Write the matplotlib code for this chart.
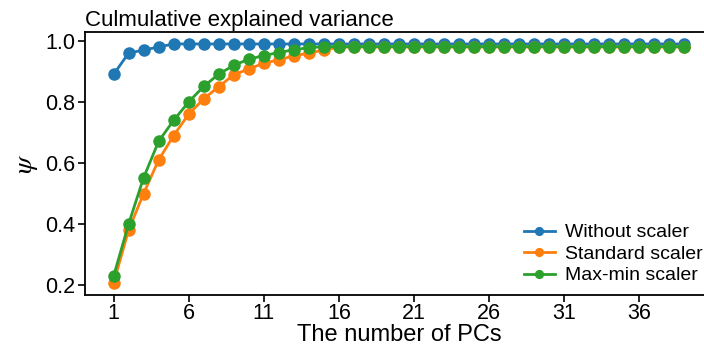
import numpy as np
import matplotlib
matplotlib.use("Agg")
import matplotlib.pyplot as plt

plt.rcParams['font.family'] = ['Liberation Sans', 'DejaVu Sans']
plt.rcParams['mathtext.fontset'] = 'stix'

# number of principal components
n_pcs = np.arange(1, 40)

# cumulative explained variance
without_scaler = [0.89, 0.96, 0.97, 0.98] + [0.99] * 35
standard_scaler = [0.207, 0.38, 0.50, 0.61, 0.69, 0.76, 0.81, 0.85, 0.889, 0.908,
                   0.927, 0.938, 0.951, 0.96, 0.97] + [0.98] * 24
maxmin_scaler = [0.229, 0.40, 0.552, 0.671, 0.74, 0.80, 0.851, 0.891, 0.92, 0.94,
                 0.952, 0.962, 0.971, 0.978] + [0.981] * 25

series = [
    ("Without scaler", without_scaler, "#1f77b4"),
    ("Standard scaler", standard_scaler, "#ff7f0e"),
    ("Max-min scaler", maxmin_scaler, "#2ca02c"),
]

fig = plt.figure(figsize=(7.04, 3.45), dpi=100)
ax = fig.add_axes([85 / 704, 50 / 345, 628 / 704, 263 / 345])

for name, vals, col in series:
    ax.plot(n_pcs, vals, "-o", color=col, lw=2, ms=8, label=name)

ax.set_xticks(np.arange(1, 40, 5))
ax.set_yticks([0.2, 0.4, 0.6, 0.8, 1.0])
ax.tick_params(labelsize=15.5, direction="out", length=5, width=1.2, pad=2)
ax.tick_params(axis="x", pad=1)
for s in ax.spines.values():
    s.set_linewidth(1.3)

ax.set_title("Culmulative explained variance", loc="left", fontsize=16, pad=4)
ax.set_xlabel("The number of PCs", fontsize=17, labelpad=0)
ax.set_ylabel(r"$\psi$", fontsize=20, labelpad=4)

ax.legend(loc="lower right", frameon=False, fontsize=14, markerscale=0.7,
          handlelength=1.6, handletextpad=0.5, labelspacing=0.2,
          borderaxespad=0.25, borderpad=0.3)

fig.savefig("out.png", dpi=100)
